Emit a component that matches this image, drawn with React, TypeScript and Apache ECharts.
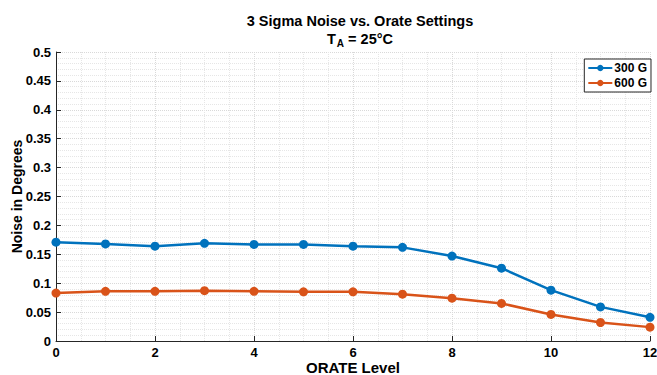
import React, { useEffect, useRef } from "react";
import * as echarts from "echarts";

const orateLevels = [0, 1, 2, 3, 4, 5, 6, 7, 8, 9, 10, 11, 12];
const noise300G = [0.171, 0.168, 0.164, 0.169, 0.167, 0.167, 0.164, 0.162, 0.147, 0.126, 0.088, 0.059, 0.041];
const noise600G = [0.083, 0.086, 0.086, 0.087, 0.086, 0.085, 0.085, 0.081, 0.074, 0.065, 0.046, 0.032, 0.024];
const seriesNames = ["300 G", "600 G"];

const FONT = "'Liberation Sans', Arial, Helvetica, sans-serif";
const AXIS = "#262626";

export default function App() {
  const ref = useRef<HTMLDivElement>(null);
  useEffect(() => {
    const chart = echarts.init(ref.current!, null, { renderer: "svg" });
    const mk = (vals: number[]) => orateLevels.map((x, i) => [x, vals[i]]);
    chart.setOption({
      animation: false,
      backgroundColor: "#ffffff",
      textStyle: { fontFamily: FONT },
      title: {
        text: "3 Sigma Noise vs. Orate Settings\n{t|T}{s|A}{t| = 25°C}",
        left: 355,
        textAlign: "center",
        top: 7,
        textStyle: {
          fontFamily: FONT,
          fontSize: 14.5,
          fontWeight: "bold",
          color: "#000",
          lineHeight: 18,
          rich: {
            t: { fontFamily: FONT, fontSize: 14.5, fontWeight: "bold", color: "#000", lineHeight: 18 },
            s: { fontFamily: FONT, fontSize: 10, fontWeight: "bold", color: "#000", verticalAlign: "bottom", padding: [7, 0, 0, 1], lineHeight: 18 },
          },
        },
      },
      legend: {
        right: 6,
        top: 59,
        orient: "vertical",
        itemWidth: 24,
        itemHeight: 8,
        itemGap: 3,
        padding: [3, 4, 3, 3],
        borderColor: AXIS,
        borderWidth: 1,
        backgroundColor: "#fff",
        textStyle: { fontFamily: FONT, fontSize: 12, fontWeight: "bold", color: "#000", padding: [0, 0, 0, -3] },
        data: seriesNames,
      },
      grid: { left: 56, right: 7, top: 52, bottom: 34, containLabel: false, outerBoundsMode: "none" },
      xAxis: {
        type: "value",
        min: 0,
        max: 12,
        interval: 2,
        name: "ORATE Level",
        nameLocation: "middle",
        nameGap: 19,
        nameMoveOverlap: false,
        nameTextStyle: { fontFamily: FONT, fontSize: 15, fontWeight: "bold", color: "#000", lineHeight: 15 },
        axisLine: { show: true, lineStyle: { color: AXIS, width: 1 } },
        axisTick: { show: true, inside: true, length: 5, lineStyle: { color: AXIS } },
        axisLabel: { fontFamily: FONT, fontSize: 13, fontWeight: "bold", color: "#000", margin: 5, lineHeight: 13 },
        splitLine: { show: true, lineStyle: { color: "#d9d9d9", type: "dotted", width: 1 } },
        minorTick: { show: false, splitNumber: 4 },
        minorSplitLine: { show: true, lineStyle: { color: "#e6e6e6", type: "dotted", width: 1 } },
      },
      yAxis: {
        type: "value",
        min: 0,
        max: 0.5,
        interval: 0.05,
        name: "Noise in Degrees",
        nameLocation: "middle",
        nameGap: 32,
        nameMoveOverlap: false,
        nameTextStyle: { fontFamily: FONT, fontSize: 14, fontWeight: "bold", color: "#000" },
        axisLine: { show: true, lineStyle: { color: AXIS, width: 1 } },
        axisTick: { show: true, inside: true, length: 5, lineStyle: { color: AXIS } },
        axisLabel: {
          fontFamily: FONT,
          fontSize: 13,
          fontWeight: "bold",
          color: "#000",
          margin: 5,
          formatter: (v: number) => String(parseFloat(v.toFixed(2))),
        },
        splitLine: { show: true, lineStyle: { color: "#d9d9d9", type: "dotted", width: 1 } },
        minorTick: { show: false, splitNumber: 5 },
        minorSplitLine: { show: true, lineStyle: { color: "#e6e6e6", type: "dotted", width: 1 } },
      },
      series: [
        {
          name: seriesNames[0],
          type: "line",
          data: mk(noise300G),
          color: "#0072BD",
          lineStyle: { width: 2.5 },
          symbol: "circle",
          symbolSize: 9,
          z: 3,
        },
        {
          name: seriesNames[1],
          type: "line",
          data: mk(noise600G),
          color: "#D95319",
          lineStyle: { width: 2.5 },
          symbol: "circle",
          symbolSize: 9,
          z: 2,
        },
      ],
    });
    return () => chart.dispose();
  }, []);
  return <div ref={ref} style={{ width: 657, height: 375, position: "absolute", left: 0, top: 0 }} />;
}
